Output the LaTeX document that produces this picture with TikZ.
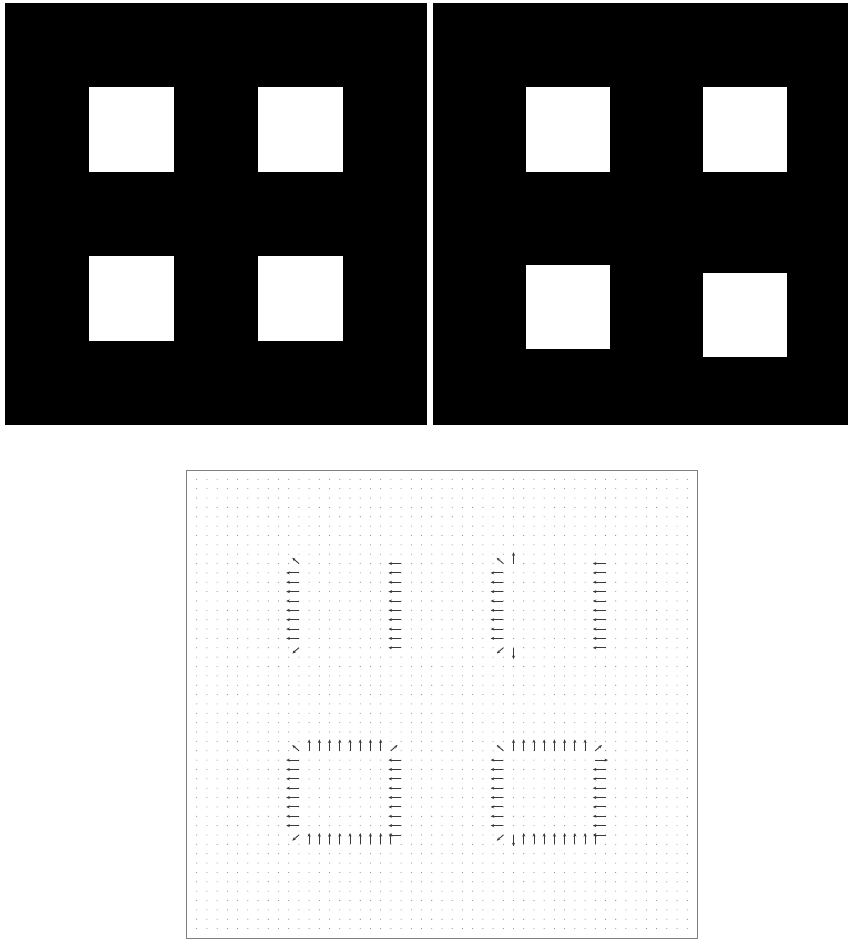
\documentclass[tikz,border=0pt]{standalone}
\usepackage{xcolor}
\usepackage{tikz}
\usetikzlibrary{arrows.meta}
\definecolor{ink}    {HTML}{000000}
\definecolor{frameln}{HTML}{808080}
\definecolor{dotc}   {HTML}{8A8A8A}
\definecolor{vecc}   {HTML}{3A3A3A}

\begin{document}
\begin{tikzpicture}[
      x=1pt, y=-1pt,
      panel/.style={fill=ink, draw=none},
      hole/.style ={fill=white, draw=none},
      plotframe/.style={draw=frameln, line width=0.9pt},
      gdot/.style ={fill=dotc, draw=none},
      vec/.style  ={-{Stealth[length=3.6pt, width=3pt]}, line width=0.9pt, draw=vecc}]

    \useasboundingbox (0,0) rectangle (848,939);

    % frame 1
    \fill[panel] (5,3) rectangle (427,425);
    \fill[hole] (89,87)  rectangle (174,172);
    \fill[hole] (258,87) rectangle (343,172);
    \fill[hole] (89,256) rectangle (174,341);
    \fill[hole] (258,256) rectangle (343,341);

    % frame 2
    \fill[panel] (433,3) rectangle (848,425);
    \fill[hole] (526,87)  rectangle (610,172);
    \fill[hole] (703,87)  rectangle (787,172);
    \fill[hole] (526,265) rectangle (610,349);
    \fill[hole] (703,273) rectangle (787,357);

    % flow field
    \draw[plotframe] (186.5,470.5) rectangle (697.5,938.5);
    \begin{scope}[shift={(196.7,479.3)}, x=10.22pt, y=-9.36pt]
      \foreach \i in {0,...,48}
        \foreach \j in {0,...,48}
          \fill[gdot] (\i,\j) circle (0.55pt);

      % leftward
      \foreach \i/\a/\b in {10/10/17, 20/9/18, 30/10/17, 40/9/18,
                            10/30/37, 20/30/38, 30/30/37, 40/31/38}
        \foreach \j in {\a,...,\b}
          \draw[vec] (\i,\j) -- ++(-1.24,0);
      \draw[vec] (39,30) -- ++(1.24,0);

      % upward
      \foreach \j/\a/\b in {29/11/18, 39/11/19, 29/31/38, 39/32/39}
        \foreach \i in {\a,...,\b}
          \draw[vec] (\i,\j) -- ++(0,-1.21);
      \draw[vec] (31,9) -- ++(0,-1.21);

      % downward
      \foreach \i/\j in {31/18, 31/38}
        \draw[vec] (\i,\j) -- ++(0,1.21);

      % corners
      \foreach \i/\j in {10/9, 30/9, 10/29, 30/29}
        \draw[vec] (\i,\j) -- ++(-0.65,-0.61);
      \foreach \i/\j in {10/18, 30/18, 10/38, 30/38}
        \draw[vec] (\i,\j) -- ++(-0.65,0.61);
      \foreach \i/\j in {19/29, 39/29}
        \draw[vec] (\i,\j) -- ++(0.65,-0.61);
    \end{scope}
  \end{tikzpicture}
\end{document}
